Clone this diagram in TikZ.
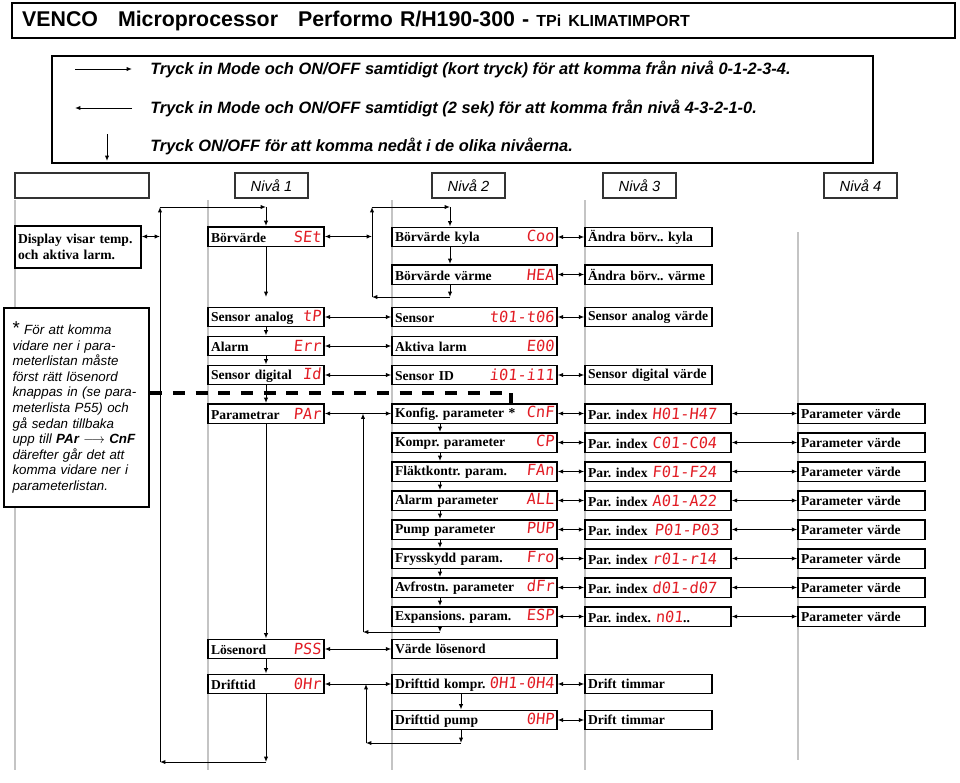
\documentclass[tikz,border=0pt]{standalone}
\usepackage{fontspec}
\setmainfont{Liberation Serif}
\setsansfont{Liberation Sans}
\newfontfamily\segfont[FakeSlant=0.1]{DejaVu Sans Mono}
\usepackage{tikz}
\usetikzlibrary{positioning,arrows.meta}
\frenchspacing
\definecolor{segred}{RGB}{226,28,36}
\definecolor{guide}{RGB}{196,196,196}
\newcommand{\menufont}{\fontsize{10.2}{12}\selectfont\bfseries}
\newcommand{\segcode}[1]{{\fontsize{11.5}{12}\segfont\mdseries\color{segred}#1}}
\tikzstyle{menubox} = [rectangle, draw=black, line width=1.1pt, fill=white, minimum height=14.6pt, inner xsep=2.25pt, inner ysep=0.5pt, align=left, font=\menufont]
\tikzstyle{levelzero} = [menubox, text width=90pt, minimum height=31.5pt]
\tikzstyle{levelone} = [menubox, text width=82.5pt]
\tikzstyle{leveltwo} = [menubox, text width=119.25pt]
\tikzstyle{levelthree} = [menubox, text width=90.75pt]
\tikzstyle{levelindex} = [menubox, text width=105pt]
\tikzstyle{header} = [rectangle, draw=black!80, line width=0.8pt, minimum height=18.75pt, minimum width=54.75pt, font=\fontsize{11}{13}\selectfont\sffamily\itshape]
\tikzstyle{legendtext} = [anchor=west, inner sep=0pt, font=\fontsize{12.3}{14}\selectfont\sffamily\bfseries\itshape]
\tikzstyle{nextarrow} = [line width=0.75pt, -{Latex[length=4pt,width=3.2pt]}]
\tikzstyle{levelarrow} = [line width=0.75pt, {Latex[length=4pt,width=3.2pt]}-{Latex[length=4pt,width=3.2pt]}]
\tikzstyle{guideline} = [guide, line width=1.1pt]

\begin{document}
\begin{tikzpicture}[x=0.75pt, y=-0.75pt, node distance=21.75pt]
\useasboundingbox (0,0) rectangle (960,782);
% title and legend
\node (title) [rectangle, draw, line width=1.8pt, minimum width=707pt, minimum height=26.25pt, inner xsep=7.5pt, text width=692pt, align=left, font=\fontsize{16}{19}\selectfont\sffamily\bfseries] at (483.5,20.5) {VENCO\hspace{15pt}Microprocessor\hspace{15pt}Performo R/H190-300 - {\fontsize{12}{14}\selectfont TPi KLIMATIMPORT}};
\node (legend) [rectangle, draw, line width=1.1pt, minimum width=615.75pt, minimum height=80.25pt] at (462.5,109.5) {};
\node (kort) [legendtext] at (150,69) {Tryck in Mode och ON/OFF samtidigt (kort tryck) för att komma från nivå 0-1-2-3-4.};
\node (lang) [legendtext] at (150,108) {Tryck in Mode och ON/OFF samtidigt (2 sek) för att komma från nivå 4-3-2-1-0.};
\node (ned) [legendtext] at (150,146) {Tryck ON/OFF för att komma nedåt i de olika nivåerna.};
\draw [nextarrow] ([xshift=-56.25pt]kort.west) -- ([xshift=-13.5pt]kort.west);
\draw [nextarrow] ([xshift=-13.5pt]lang.west) -- ([xshift=-56.25pt]lang.west);
\draw [nextarrow] ([xshift=-32.25pt,yshift=9pt]ned.west) -- ([xshift=-32.25pt,yshift=-11.25pt]ned.west);
% level headers
\node (blank) [header, minimum width=100.5pt] at (82,185.5) {};
\foreach \k/\hx in {1/271.5, 2/468.5, 3/639.5, 4/860.5}
  \node (niva\k) [header] at (\hx,185.5) {Nivå \k};
\foreach \gx/\gtop/\gbot in {15/200/770, 208/200/770, 392/200/770, 585/200/770, 798/232/760}
  \draw [guideline] (\gx,\gtop) -- (\gx,\gbot);
%-----------------------------------------------
\node (disp) [levelzero] at (78,247) {Display visar temp.\\och aktiva larm.};
\node (note) [rectangle, draw, line width=1.5pt, fill=white, text width=96pt, inner xsep=6.5pt, minimum height=149.25pt, align=left, font=\fontsize{10}{11.7}\selectfont\sffamily\itshape] at (76.5,407.5) {{\fontsize{14}{14}\selectfont\upshape *} För att komma\\vidare ner i para-\\meterlistan måste\\först rätt lösenord\\knappas in (se para-\\meterlista P55) och\\gå sedan tillbaka\\upp till \textbf{PAr} $\longrightarrow$ \textbf{CnF}\\därefter går det att\\komma vidare ner i\\parameterlistan.};
%-----------------------------------------------
\node (bor) [levelone] at (266,236.5) {Börvärde\hfill\segcode{SEt}\hspace*{11pt}};
\node (san) [levelone] at (266,317) {Sensor analog\hfill\segcode{tP}};
\node (alm) [levelone, below of=san] {Alarm\hfill\segcode{Err}};
\node (sdig) [levelone, below of=alm] {Sensor digital\hfill\segcode{Id}\hspace*{7pt}};
\node (parm) [levelone] at (266,413.5) {Parametrar\hfill\segcode{PAr}};
\node (pss) [levelone] at (266,649) {Lösenord\hfill\segcode{PSS}\hspace*{7pt}};
\node (drift) [levelone] at (266,684) {Drifttid\hfill\segcode{0Hr}\hspace*{3pt}};
%-----------------------------------------------
\node (coo) [leveltwo] at (474.5,237) {Börvärde kyla\hfill\segcode{Coo}\hspace*{10pt}};
\node (hea) [leveltwo] at (474.5,274.5) {Börvärde värme\hfill\segcode{HEA}\hspace*{8pt}};
\node (sen) [leveltwo] at (474.5,317) {Sensor\hfill\segcode{t01-t06}\hspace*{6pt}};
\node (akt) [leveltwo, below of=sen] {Aktiva larm\hfill\segcode{E00}\hspace*{6pt}};
\node (sid) [leveltwo, below of=akt] {Sensor ID\hfill\segcode{i01-i11}\hspace*{6pt}};
\node (vls) [leveltwo] at (474.5,649) {Värde lösenord};
\node (dkomp) [leveltwo] at (474.5,684) {Drifttid kompr.\hfill\segcode{0H1-0H4}};
\node (dpump) [leveltwo] at (474.5,720) {Drifttid pump\hfill\segcode{0HP}\hspace*{6pt}};
%-----------------------------------------------
\node (akyla) [levelthree] at (648.5,237) {Ändra börv.. kyla};
\node (avarme) [levelthree] at (648.5,274.5) {Ändra börv.. värme};
\node (sanv) [levelthree] at (648.5,317) {Sensor analog värde};
\node (sdv) [levelthree] at (648.5,375) {Sensor digital värde};
\node (dt1) [levelthree] at (648.5,684) {Drift timmar};
\node (dt2) [levelthree] at (648.5,720) {Drift timmar};
%-----------------------------------------------
\foreach \n/\txt/\cd/\ix [count=\i from 0] in {
  kon/{Konfig. parameter *}/CnF/{Par. index \segcode{H01-H47}},
  kmp/{Kompr. parameter}/CP/{Par. index \segcode{C01-C04}},
  fan/{Fläktkontr. param.}/FAn/{Par. index \segcode{F01-F24}},
  all/{Alarm parameter}/ALL/{Par. index \segcode{A01-A22}},
  pup/{Pump parameter}/PUP/{Par. index\, \segcode{P01-P03}},
  fro/{Frysskydd param.}/Fro/{Par. index \segcode{r01-r14}},
  dfr/{Avfrostn. parameter}/dFr/{Par. index \segcode{d01-d07}},
  esp/{Expansions. param.}/ESP/{Par. index. \segcode{n01}..}}
{
  \node (\n) [leveltwo] at (474.5,{413.5+29*\i}) {\txt\hfill\segcode{\cd}\hspace*{5pt}};
  \node (i\n) [levelindex] at (658,{413.5+29*\i}) {\ix};
  \node (v\n) [levelthree] at (861.5,{413.5+29*\i}) {Parameter värde};
  \draw [levelarrow] (\n) -- (i\n);
  \draw [levelarrow] (i\n) -- (v\n);
}
%-----------------------------------------------
\coordinate (top) at (160,207);
\coordinate (bot) at (160,762);
\coordinate (ltop) at (372,207);
\coordinate (ltopr) at (450,207);
\coordinate (lbot) at (372,297);
\coordinate (lbotr) at (450,297);
\coordinate (px) at (440,632);
\coordinate (rl) at (363,632);
\coordinate (dx) at (461,743);
\coordinate (dl) at (366,743);
\coordinate (dashend) at (511,393);
%-----------------------------------------------
\draw [levelarrow] (disp.east |- bor) -- (top |- bor);
\draw [nextarrow] (drift) -- (drift |- bot);
\draw [nextarrow] (drift |- bot) -- (bot);
\draw [nextarrow] (bot) -- (top);
\draw [nextarrow] (top) -- (bor.north |- top);
\draw [nextarrow] (bor.north |- top) -- (bor);
\draw [nextarrow] (bor) -- (bor |- lbot);
\draw [nextarrow] (san) -- (alm);
\draw [nextarrow] (alm) -- (sdig);
\draw [nextarrow] (sdig) -- (parm);
\draw [nextarrow] (parm) -- (pss);
\draw [nextarrow] (pss) -- (drift);
\draw [levelarrow] (bor) -- (ltop |- bor);
\draw [nextarrow] (ltop) -- (ltopr);
\draw [nextarrow] (ltopr) -- (coo.north -| ltopr);
\draw [nextarrow] (coo.south -| ltopr) -- (hea.north -| ltopr);
\draw [nextarrow] (hea.south -| lbotr) -- (lbotr);
\draw [nextarrow] (lbotr) -- (lbot);
\draw [nextarrow] (lbot) -- (ltop);
\draw [levelarrow] (san) -- (sen);
\draw [levelarrow] (alm) -- (akt);
\draw [levelarrow] (sdig) -- (sid);
\draw [levelarrow] (parm) -- (kon);
\draw [levelarrow] (coo) -- (akyla);
\draw [levelarrow] (hea) -- (avarme);
\draw [levelarrow] (sen) -- (sanv);
\draw [levelarrow] (sid) -- (sdv);
\foreach \a/\b in {kon/kmp, kmp/fan, fan/all, all/pup, pup/fro, fro/dfr, dfr/esp}
  \draw [nextarrow] (\a.south -| px) -- (\b.north -| px);
\draw [nextarrow] (esp.south -| px) -- (px);
\draw [nextarrow] (px) -- (rl);
\draw [nextarrow] (rl) -- (rl |- parm);
\draw [levelarrow] (pss) -- (vls);
\draw [levelarrow] (drift) -- (dkomp);
\draw [levelarrow] (dkomp) -- (dt1);
\draw [levelarrow] (dpump) -- (dt2);
\draw [nextarrow] (dkomp.south -| dx) -- (dpump.north -| dx);
\draw [nextarrow] (dpump.south -| dx) -- (dx);
\draw [nextarrow] (dx) -- (dl);
\draw [nextarrow] (dl) -- (dl |- drift);
%-----------------------------------------------
\draw [line width=2.3pt, dash pattern=on 9pt off 8pt] (note.east |- dashend) -- (dashend);
\draw [line width=2.3pt] (dashend) -- ++(0,12);
\end{tikzpicture}
\end{document}
